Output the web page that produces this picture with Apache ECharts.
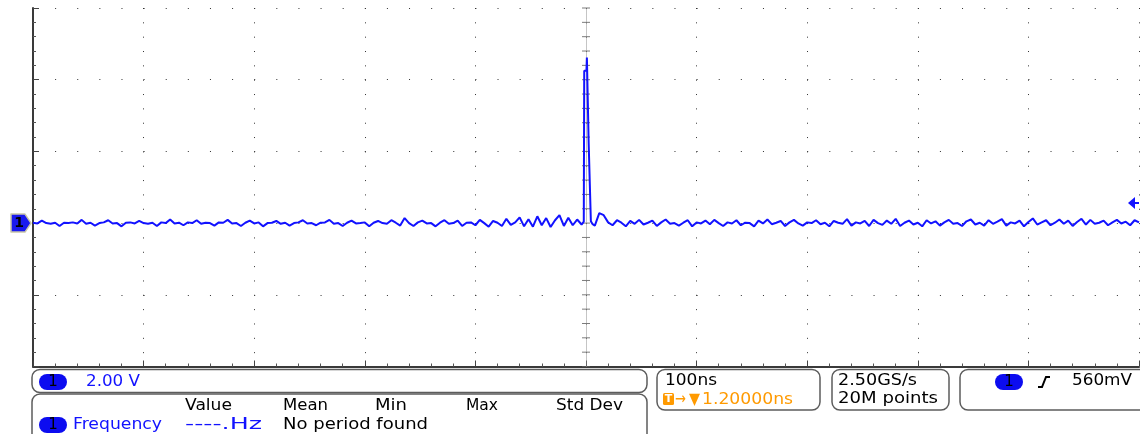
<!DOCTYPE html>
<html>
<head>
<meta charset="utf-8">
<script src="https://cdn.jsdelivr.net/npm/echarts@6/dist/echarts.min.js"></script>
<style>
  html, body { margin: 0; padding: 0; background: #fff; }
  #scope { width: 1140px; height: 434px; }
</style>
</head>
<body>
<div id="scope"></div>
<script>
// ---- Channel 1 record: 100 ns/div horizontal, 2.00 V/div vertical ----
const timeAxisNs = { min: -500, max: 500, step: 100 };
const voltAxis = { min: -4, max: 6, step: 2 };

// Baseline samples before the pulse, one every 4 ns starting at -500 ns
const sampleStepNs = 4;
const preStartNs = -500;
const preVolts = [
  0.01,-0.01,0.07,0.00,-0.02,0.01,-0.08,0.01,0.00,0.02,
  -0.01,0.09,-0.02,0.01,-0.07,0.00,0.02,0.08,-0.01,0.00,
  -0.09,0.01,0.02,-0.01,0.06,0.00,-0.02,0.01,-0.08,0.02,
  0.00,0.10,-0.01,0.01,-0.06,0.02,0.00,0.08,-0.02,0.01,
  0.00,-0.07,0.02,0.01,0.09,-0.01,0.00,-0.08,0.01,0.07,
  -0.01,0.02,-0.09,0.00,0.01,0.06,-0.02,0.01,-0.07,0.00,
  0.02,0.08,-0.01,0.00,-0.06,0.01,0.02,0.09,-0.02,0.00,
  -0.08,0.01,0.07,-0.01,0.00,0.02,-0.09,0.01,0.06,0.00,
  -0.02,0.08,0.01,-0.07,0.14,0.00,-0.08,0.02,0.07,-0.01,
  0.00,-0.09,0.01,0.08,-0.02,0.00,0.07,-0.08,0.01,0.02,
  -0.06,0.09,0.00,-0.10,0.06,0.01,-0.08,0.12,-0.05,0.02,
  0.16,-0.09,0.11,-0.10,0.19,-0.06,0.14,-0.11,0.08,0.22,
  -0.08,0.15,-0.06,0.10,-0.04
];

// The pulse itself, around the trigger point
const pulseTimesNs = [-2.0, -1.6, 0.4, 0.8, 2.0, 2.4, 4.0, 4.4, 6.0];
const pulseVolts   = [0.04, 4.25, 4.25, 4.62, 4.62, 2.24, 2.24, 0.05, -0.03];

// Baseline samples after the pulse, one every 4 ns starting at 8 ns
const postStartNs = 8;
const postVolts = [
  -0.07,0.28,0.22,0.02,-0.06,0.08,0.01,-0.09,0.06,-0.02,
  0.09,-0.04,0.01,0.07,-0.08,0.02,0.10,-0.02,0.00,-0.07,
  0.01,0.08,-0.09,0.02,-0.01,0.07,-0.03,0.09,0.00,-0.08,
  0.02,-0.01,0.08,-0.06,0.01,0.00,-0.09,0.07,-0.01,0.10,
  -0.03,0.01,0.06,-0.08,0.02,0.09,-0.01,-0.07,0.02,0.00,
  0.08,-0.03,0.01,-0.09,0.06,0.01,-0.02,0.11,-0.07,0.02,
  -0.01,0.06,-0.08,0.09,0.00,-0.05,0.07,-0.02,0.12,-0.08,
  0.01,0.07,-0.04,0.01,-0.09,0.08,-0.01,0.05,-0.07,0.02,
  0.09,-0.02,0.00,-0.08,0.05,0.10,-0.04,0.01,-0.07,0.08,
  -0.02,0.04,0.11,-0.07,0.02,-0.01,0.07,-0.09,0.03,0.13,
  -0.04,0.02,0.08,-0.06,0.01,0.10,-0.02,0.07,-0.08,0.03,
  0.12,-0.04,0.09,-0.02,0.01,0.07,-0.06,0.02,0.09,-0.01,
  0.04,-0.06,0.08,0.02
];

// Trigger level and readouts
const triggerLevelVolts = 0.56;
const channelLabel = '1';
const verticalScaleText = '2.00 V';
const measureHeaders = ['Value', 'Mean', 'Min', 'Max', 'Std Dev'];
const measureRow = ['Frequency', '----.Hz', 'No period found'];
const timebaseText = '100ns';
const triggerPosText = '1.20000ns';
const sampleRateText = '2.50GS/s';
const recordLengthText = '20M points';
const triggerLevelText = '560mV';

// ---- build the trace ----
const trace = [];
preVolts.forEach((v, i) => trace.push([preStartNs + i * sampleStepNs, v]));
pulseTimesNs.forEach((t, i) => trace.push([t, pulseVolts[i]]));
postVolts.forEach((v, i) => trace.push([postStartNs + i * sampleStepNs, v]));

// centre graticule cross marks, at every minor vertical division
const centreMarks = [];
const minorV = voltAxis.step / 5;
for (let k = 0; voltAxis.min + k * minorV <= voltAxis.max + 1e-9; k++) {
  centreMarks.push([0, +(voltAxis.min + k * minorV).toFixed(3)]);
}

const GRID = { left: 33, top: 8, width: 1106, height: 358.5 };
const DOT_X = GRID.width / 50;   // dot pitch along horizontal lines
const DOT_Y = GRID.height / 25;  // dot pitch along vertical lines

const BLUE = '#1212ff';
const ORANGE = '#ff9a00';
const FONT = '16px "DejaVu Sans"';

const chart = echarts.init(document.getElementById('scope'), null, { renderer: 'canvas' });

chart.setOption({
  animation: false,
  backgroundColor: '#ffffff',
  grid: { left: GRID.left, top: GRID.top, width: GRID.width, height: GRID.height, containLabel: false },
  xAxis: {
    type: 'value', min: timeAxisNs.min, max: timeAxisNs.max, interval: timeAxisNs.step,
    axisLine: { show: true, onZero: false, lineStyle: { color: '#3a3a3a', width: 2 } },
    axisTick: { show: true, inside: true, length: 6, lineStyle: { color: '#444' } },
    minorTick: { show: true, splitNumber: 5, length: 3, lineStyle: { color: '#555' } },
    axisLabel: { show: false },
    splitLine: { show: true, lineStyle: { color: '#333', width: 1, type: [1, DOT_Y - 1] } },
    minorSplitLine: { show: false }
  },
  yAxis: {
    type: 'value', min: voltAxis.min, max: voltAxis.max, interval: voltAxis.step,
    axisLine: { show: true, onZero: false, lineStyle: { color: '#3a3a3a', width: 2 } },
    axisTick: { show: true, inside: true, length: 6, lineStyle: { color: '#444' } },
    minorTick: { show: true, splitNumber: 5, length: 3, lineStyle: { color: '#555' } },
    axisLabel: { show: false },
    splitLine: { show: true, lineStyle: { color: '#333', width: 1, type: [1, DOT_X - 1] } },
    minorSplitLine: { show: false }
  },
  series: [
    {
      type: 'scatter', silent: true, z: 2,
      data: centreMarks, symbol: 'rect', symbolSize: [8, 1],
      itemStyle: { color: '#5a5a5a' },
      markLine: {
        silent: true, symbol: ['none', 'none'], label: { show: false },
        lineStyle: { type: [1, 1], color: '#8a8a8a', width: 1 },
        data: [{ xAxis: 0 }]
      }
    },
    {
      type: 'line', silent: true, z: 5,
      data: trace, symbol: 'none', showSymbol: false,
      lineStyle: { color: BLUE, width: 2 }
    }
  ]
});

// ---- markers and readout panel ----
const ctx = document.createElement('canvas').getContext('2d');
function fitScale(text, width) {
  ctx.font = FONT;
  return width / ctx.measureText(text).width;
}
function label(text, x, y, width, fill) {
  return {
    type: 'text', x: x, y: y, scaleX: fitScale(text, width), z: 20,
    style: { text: text, font: FONT, fill: fill, align: 'left', verticalAlign: 'middle' }
  };
}
function box(x, y, w, h) {
  return {
    type: 'rect', z: 10, shape: { x: x, y: y, width: w, height: h, r: 8 },
    style: { fill: '#ffffff', stroke: '#5c5c5c', lineWidth: 1.5 }
  };
}
function pill(cx, cy) {
  return [
    { type: 'rect', z: 15, shape: { x: cx - 14, y: cy - 8, width: 28, height: 16, r: 8 },
      style: { fill: '#0c0cf0' } },
    { type: 'text', x: cx, y: cy, z: 20,
      style: { text: channelLabel, font: '15px "DejaVu Sans"', fill: '#000', align: 'center', verticalAlign: 'middle' } }
  ];
}

const y0 = chart.convertToPixel({ yAxisIndex: 0 }, 0);
const yTrig = chart.convertToPixel({ yAxisIndex: 0 }, triggerLevelVolts);
const xRight = chart.convertToPixel({ xAxisIndex: 0 }, timeAxisNs.max);

const graphics = [
  // channel 1 ground reference marker
  { type: 'polygon', z: 20,
    shape: { points: [[11, y0 - 9], [25, y0 - 9], [31, y0], [25, y0 + 9], [11, y0 + 9]] },
    style: { fill: '#1a1aee', stroke: '#c9c6a8', lineWidth: 1.5, lineJoin: 'round' } },
  { type: 'text', x: 19, y: y0, z: 21,
    style: { text: channelLabel, font: 'bold 14px "DejaVu Sans"', fill: '#000', align: 'center', verticalAlign: 'middle' } },
  // trigger level marker
  { type: 'polygon', z: 20,
    shape: { points: [[xRight - 11, yTrig], [xRight - 4, yTrig - 6], [xRight - 4, yTrig + 6]] },
    style: { fill: BLUE } },
  { type: 'rect', z: 20, shape: { x: xRight - 5, y: yTrig - 1, width: 5, height: 2 }, style: { fill: BLUE } },

  // readout boxes
  box(32, 369.5, 615, 23),
  box(32, 394, 615, 56),
  box(657, 369.5, 163, 40.5),
  box(832, 369.5, 117, 40.5),
  box(960, 369.5, 190, 40.5),

  ...pill(53, 382),
  label(verticalScaleText, 86, 382, 54, BLUE),

  label(measureHeaders[0], 185, 406, 47, '#000'),
  label(measureHeaders[1], 283, 406, 45, '#000'),
  label(measureHeaders[2], 375, 406, 32, '#000'),
  label(measureHeaders[3], 466, 406, 32, '#000'),
  label(measureHeaders[4], 556, 406, 67, '#000'),
  ...pill(53, 425),
  label(measureRow[0], 73, 425, 89, BLUE),
  label(measureRow[1], 185, 425, 77, BLUE),
  label(measureRow[2], 283, 425, 145, '#000'),

  label(timebaseText, 665, 381, 52, '#000'),
  { type: 'rect', z: 15, shape: { x: 663, y: 393, width: 11, height: 12, r: 1.5 }, style: { fill: ORANGE } },
  { type: 'text', x: 668.5, y: 399.5, z: 20,
    style: { text: 'T', font: 'bold 11px "DejaVu Sans"', fill: '#fff', align: 'center', verticalAlign: 'middle' } },
  label('→', 675, 399.5, 11, ORANGE),
  label('▼', 689, 399.5, 11, ORANGE),
  label(triggerPosText, 702, 399.5, 91, ORANGE),

  label(sampleRateText, 838, 381, 79, '#000'),
  label(recordLengthText, 838, 399, 100, '#000'),

  ...pill(1009, 382),
  { type: 'polyline', z: 20,
    shape: { points: [[1038, 387], [1042, 387], [1046, 377], [1050, 377]] },
    style: { stroke: '#000', lineWidth: 2, fill: null } },
  label(triggerLevelText, 1072, 381, 60, '#000')
];

chart.setOption({ graphic: graphics });
</script>
</body>
</html>
